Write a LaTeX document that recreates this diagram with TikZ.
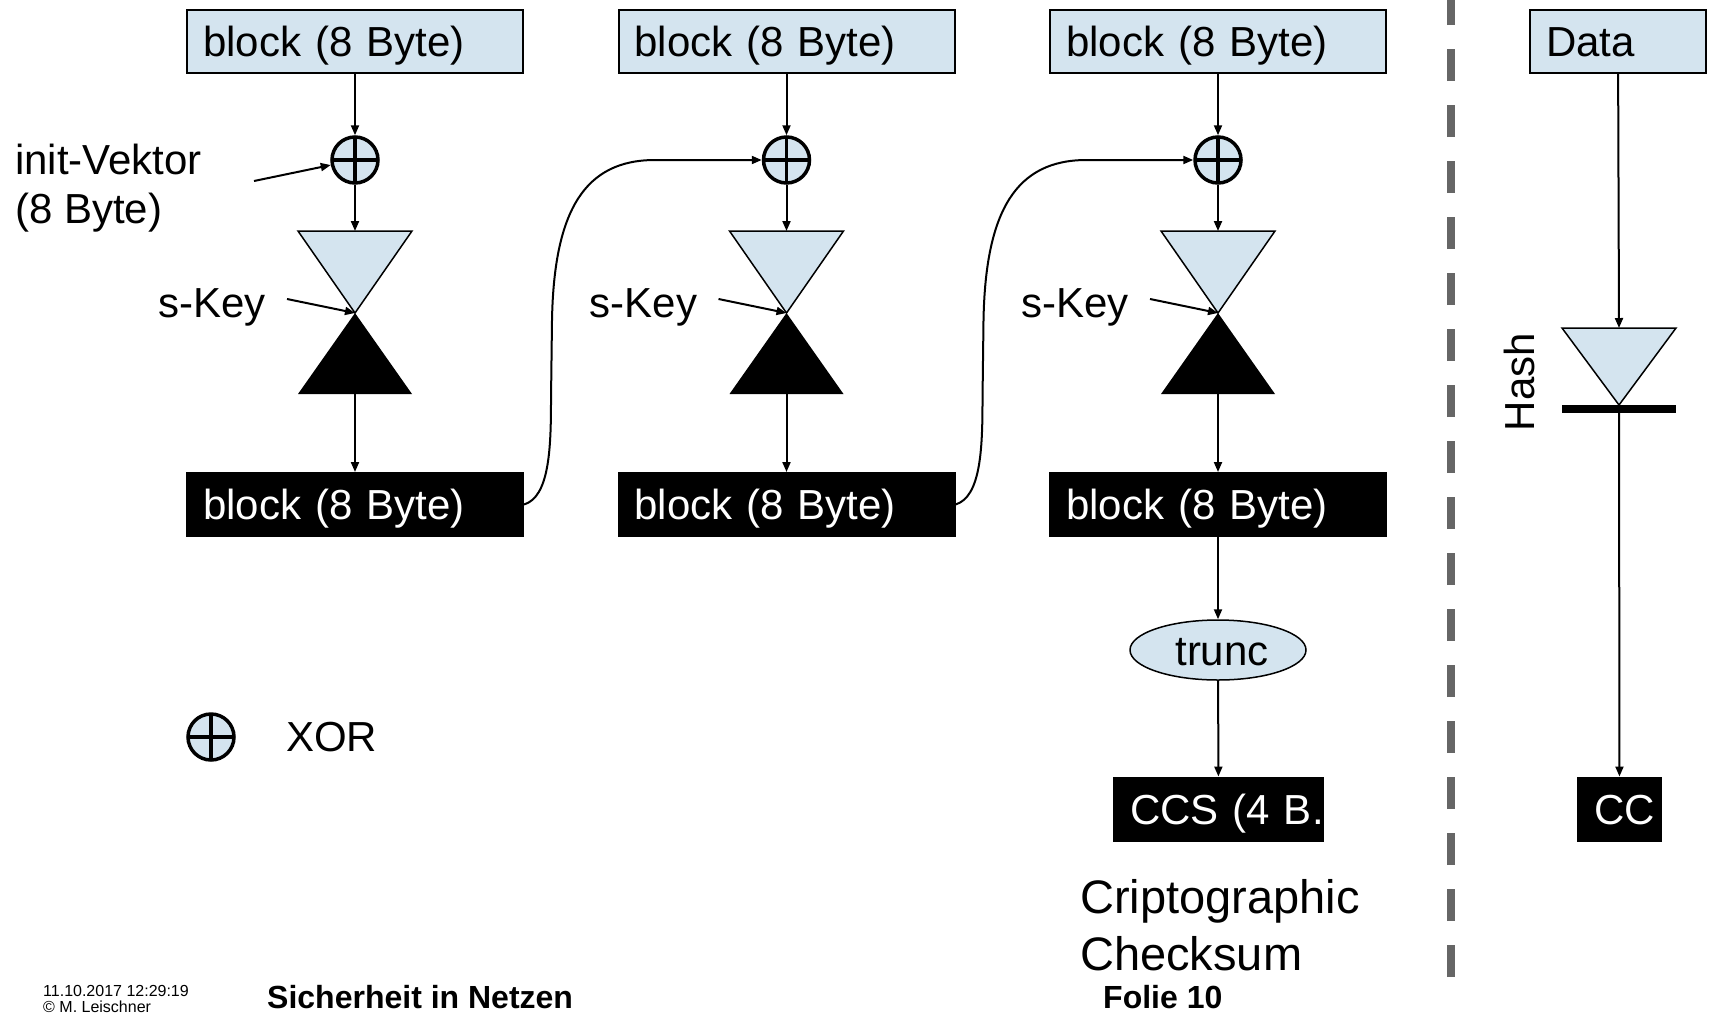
\documentclass[tikz,border=0pt]{standalone}
\usepackage{fontspec}
\setmainfont{Liberation Sans}
\usetikzlibrary{arrows.meta,shapes.geometric,calc}
\definecolor{lb}{RGB}{212,228,239}
\definecolor{sepgray}{RGB}{102,102,102}
\begin{document}
\begin{tikzpicture}[x=1pt,y=-1pt,
  conn/.style={line width=2pt, -{Triangle[length=10pt,width=8pt]}},
  lbox/.style={draw, line width=2pt, fill=lb, minimum height=63pt, inner xsep=16pt, inner ysep=0pt,
    text width=#1, align=left, text height=30pt, text depth=0pt, font=\fontsize{42}{48}\selectfont},
  dbox/.style={lbox=#1, fill=black, draw=black, text=white},
  xor/.style={circle, draw, line width=3.5pt, fill=lb, minimum size=46pt, inner sep=0pt,
    path picture={\draw[line width=3.5pt] (path picture bounding box.north) -- (path picture bounding box.south)
      (path picture bounding box.west) -- (path picture bounding box.east);}},
  lbl/.style={anchor=base west, inner sep=0pt, font=\fontsize{42}{48}\selectfont},
  ell/.style={ellipse, draw, line width=1.5pt, fill=lb, minimum width=176pt, minimum height=60pt,
    inner sep=0pt, text height=30pt, text depth=0pt, font=\fontsize{42}{48}\selectfont},
  tri/.style={fill=lb, draw=black, line width=1.5pt, line join=miter},
]
\useasboundingbox (0,0) rectangle (1712,1015);

% three CBC columns
\foreach \i/\c in {1/355, 2/786.5, 3/1218} {
  \node[lbox=304pt] (t\i) at (\c,41) {block (8 Byte)};
  \node[xor] (x\i) at (\c,160) {};
  \coordinate (tt\i) at (\c,231);
  \coordinate (ap\i) at (\c,313);
  \coordinate (tb\i) at (\c,394);
  \filldraw[tri] ($(tt\i)+(-57,0)$) -- ($(tt\i)+(57,0)$) -- (ap\i) -- cycle;
  \fill[black] (ap\i) -- ($(tb\i)+(57,0)$) -- ($(tb\i)+(-57,0)$) -- cycle;
  \node[dbox=304pt] (b\i) at (\c,504.5) {block (8 Byte)};
  \node[lbl] (sk\i) at (\c-197,317) {s-Key};
  \coordinate (sks\i) at (\c-68,299);
  \draw[conn] (t\i) -- (x\i);
  \draw[conn] (x\i) -- (tt\i);
  \draw[conn] (tb\i) -- (b\i);
  \draw[conn] (sks\i) -- (ap\i);
}

% chaining curves
\draw[conn] (b1.east) .. controls (549,497) and (551,450) .. (551,400) -- (552,320)
  .. controls (554,210) and (585,160) .. (655,160) -- (x2.west);
\draw[conn] (b2.east) .. controls (980.5,497) and (982.5,450) .. (982.5,400) -- (983.5,320)
  .. controls (985.5,210) and (1016.5,160) .. (1086.5,160) -- (x3.west);

% init vector
\node[lbl] (iv1) at (15,174) {init-Vektor};
\node[lbl] (iv2) at (15,223) {(8 Byte)};
\coordinate (ivs) at (254,181);
\draw[conn] (ivs) -- (x1);

% legend
\node[xor] (xl) at (211,737) {};
\node[lbl] (xlt) at (286,751) {XOR};

% trunc and CCS
\node[ell] (tr) at (1218,650) {\hspace*{8pt}trunc};
\node[dbox=177pt] (ccs) at (1218.5,809) {\mbox{CCS (4 B.}};
\draw[conn] (b3) -- (tr);
\draw[conn] (tr) -- (ccs);
\node[anchor=base west, inner sep=0pt, font=\fontsize{47}{50}\selectfont] (cg1) at (1080,913) {Criptographic};
\node[anchor=base west, inner sep=0pt, font=\fontsize{47}{50}\selectfont] (cg2) at (1080,970) {Checksum};

% separator
\draw[sepgray, line width=7.5pt, dash pattern=on 32pt off 24pt] (1451,977) -- (1451,-10);

% hash part
\node[lbox=144pt] (data) at (1618,41) {Data};
\coordinate (ht) at (1619,328);
\coordinate (ha) at (1619,405);
\filldraw[tri] ($(ht)+(-57,0)$) -- ($(ht)+(57,0)$) -- (ha) -- cycle;
\draw[line width=8pt] ($(ha)+(-57,4)$) -- ($(ha)+(57,4)$);
\node[dbox=51pt] (cc) at (1619.5,809) {\mbox{CC}};
\draw[conn] (data) -- (ht);
\draw[conn] (ha) -- (cc);
\node[rotate=90, inner sep=0pt, font=\fontsize{42}{44}\selectfont] (hash) at (1519,382) {Hash};

% footer
\node[anchor=base west, inner sep=0pt, font=\fontsize{16}{16}\selectfont] (date) at (43,996) {11.10.2017 12:29:19};
\node[anchor=base west, inner sep=0pt, font=\fontsize{16}{16}\selectfont] (auth) at (43,1012) {© M. Leischner};
\node[anchor=base west, inner sep=0pt, font=\fontsize{32}{32}\selectfont\bfseries] (title) at (267,1008) {Sicherheit in Netzen};
\node[anchor=base west, inner sep=0pt, font=\fontsize{32}{32}\selectfont\bfseries] (folie) at (1103,1008) {Folie 10};
\end{tikzpicture}
\end{document}
